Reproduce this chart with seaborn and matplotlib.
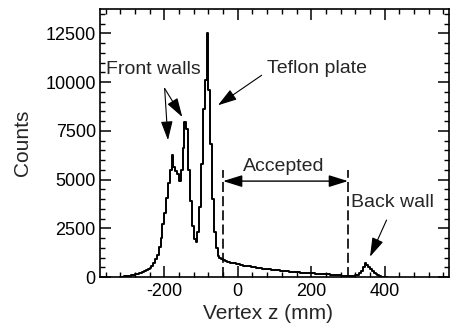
import numpy as np
import pandas as pd
import matplotlib
matplotlib.use("Agg")
import matplotlib.pyplot as plt
from matplotlib.ticker import MultipleLocator
import seaborn as sns

# Vertex-z histogram, 5 mm bins starting at -320 mm
bin_width = 5
first_edge = -320

# rising flank up to the first front-wall peak (-320 ... -180)
counts_front_rise = [10, 20, 30, 40, 55, 70, 85, 105, 130, 155, 185, 215, 250, 290,
                     340, 400, 480, 580, 730, 900, 1150, 1550, 2000, 2700, 3300,
                     4050, 4800, 5500, 6250]
# front walls + teflon plate (-175 ... -35)
counts_walls_plate = [5650, 5450, 5300, 4950, 5500, 6600, 7950, 7600, 5500, 3900,
                      2600, 1950, 1810, 2300, 3600, 5800, 8600, 10100, 12500, 9600,
                      6800, 4000, 2300, 1500, 1100, 1000, 900, 850, 800]
# gas volume tail (-30 ... 310)
counts_tail = [780, 765, 740, 725, 700, 690, 650, 640, 615, 590, 580, 560, 545, 525,
               505, 495, 470, 455, 445, 430, 420, 410, 405, 390, 380, 370, 360, 355,
               340, 330, 325, 310, 300, 290, 280, 270, 260, 255, 245, 240, 230, 225,
               215, 210, 205, 200, 190, 185, 175, 170, 160, 155, 150, 140, 135, 130,
               120, 115, 105, 100, 90, 80, 75, 70, 60, 55, 50, 45, 45]
# back wall (315 ... 400)
counts_back = [55, 80, 120, 200, 330, 520, 700, 640, 520, 400, 300, 210, 140, 90,
               50, 25, 10, 5]

counts = np.array(counts_front_rise + counts_walls_plate + counts_tail + counts_back,
                  dtype=float)
edges = first_edge + bin_width * np.arange(len(counts) + 1)
centers = 0.5 * (edges[:-1] + edges[1:])
df = pd.DataFrame({"z": centers, "n": counts})

accepted_range = (-40, 300)
y_ticks = [0, 2500, 5000, 7500, 10000, 12500]
x_ticks = [-200, 0, 200, 400]

sns.set_theme(style="ticks")
plt.rcParams["font.family"] = ["Liberation Sans", "DejaVu Sans"]
plt.rcParams["font.size"] = 13
plt.rcParams["axes.unicode_minus"] = False

fig = plt.figure(figsize=(4.5, 3.23), dpi=100)
ax = fig.add_axes([100 / 450, 1 - 277 / 323, 349 / 450, 268 / 323])

sns.histplot(data=df, x="z", weights="n", bins=[float(e) for e in edges],
             element="step", fill=False, color="black", linewidth=1.4, ax=ax)

ax.set_xlim(-375, 575)
ax.set_ylim(0, 13750)
ax.set_xticks(x_ticks)
ax.set_yticks(y_ticks)
ax.xaxis.set_minor_locator(MultipleLocator(40))
ax.yaxis.set_minor_locator(MultipleLocator(500))
ax.tick_params(which="both", direction="in", top=True, right=True, color="black",
               labelsize=13, labelcolor="black")
ax.tick_params(which="major", length=8, width=1.1)
ax.tick_params(which="minor", length=3.5, width=1.0)
ax.tick_params(axis="x", which="major", pad=4)
ax.tick_params(axis="y", which="major", pad=3)
for s in ax.spines.values():
    s.set_linewidth(1.2)
    s.set_color("black")

ax.set_xlabel("Vertex z (mm)", fontsize=15)
ax.set_ylabel("Counts", fontsize=15)
ax.xaxis.set_label_coords(0.48, -0.1)
ax.yaxis.set_label_coords(-0.195, 0.5)

# acceptance window
lo, hi = accepted_range
for xv in (lo, hi):
    ax.plot([xv, xv], [0, 5480], color="black", lw=1.2, ls=(0, (6, 2.5)))
ax.annotate("", xy=(hi, 4920), xytext=(lo, 4920),
            arrowprops=dict(arrowstyle="<|-|>,head_length=0.9,head_width=0.28",
                            color="black", lw=1.0, shrinkA=0, shrinkB=0))
ax.text(125, 5650, "Accepted", ha="center", va="center", fontsize=14)

arrow = dict(arrowstyle="-|>,head_length=0.9,head_width=0.28", color="black",
             lw=0.8, shrinkA=0, shrinkB=0)

ax.text(-229, 10650, "Front walls", ha="center", va="center", fontsize=14)
ax.annotate("", xy=(-190, 7020), xytext=(-199, 9670), arrowprops=arrow)
ax.annotate("", xy=(-151, 8210), xytext=(-199, 9670), arrowprops=arrow)

ax.text(215, 10700, "Teflon plate", ha="center", va="center", fontsize=14)
ax.annotate("", xy=(-54, 8810), xytext=(65, 10350), arrowprops=arrow)

ax.text(422, 3840, "Back wall", ha="center", va="center", fontsize=14)
ax.annotate("", xy=(360, 1040), xytext=(405, 2920), arrowprops=arrow)

fig.savefig("out.png", dpi=100)
